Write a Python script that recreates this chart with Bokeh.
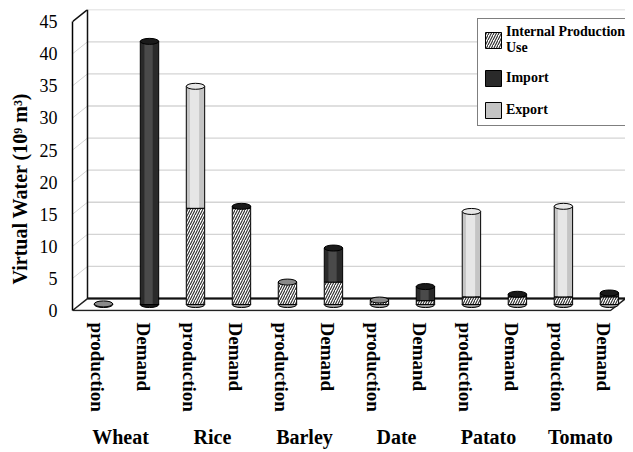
from bokeh.plotting import figure
from bokeh.models import (Range1d, FixedTicker, LinearAxis, Legend, LegendItem,
                          ColumnDataSource, Title)
from bokeh.embed import file_html
from bokeh.resources import INLINE

# ---------------- data ----------------
crops = ["Wheat", "Rice", "Barley", "Date", "Patato", "Tomato"]
kinds = ["production", "Demand"]
internal = [0.1, 0.0, 15.0, 15.0, 3.5, 3.5, 0.7, 0.6, 1.2, 1.2, 1.2, 1.2]
imports = [0.0, 41.0, 0.0, 0.3, 0.0, 5.3, 0.0, 2.2, 0.0, 0.4, 0.0, 0.6]
exports = [0.0, 0.0, 19.0, 0.0, 0.0, 0.0, 0.0, 0.0, 13.3, 0.0, 14.1, 0.0]
yticks = [0, 5, 10, 15, 20, 25, 30, 35, 40, 45]

# ---------------- geometry ----------------
FONT = "Liberation Serif"
FRAME_W = 553
X0, X1 = -0.674, 11.35
Y0, Y1 = -0.15, 46.9
PX_Y = 6.42
FRAME_H = int(round((Y1 - Y0) * PX_Y))
PX_X = FRAME_W / (X1 - X0)
DXU = 15 / PX_X          # depth offset in x (data units)
DYU = 12 / PX_Y          # depth offset in y (data units)
BASE = DYU / 2
BAR_W = 0.40
LBL_SHIFT = -0.13

labels = []
xs = []
for i, c in enumerate(crops):
    for j, k in enumerate(kinds):
        labels.append(k)
        xs.append(2 * i + j)
lbl_x = [x + LBL_SHIFT for x in xs]
group_x = [2 * i + 0.5 + LBL_SHIFT for i in range(len(crops))]

b0 = [BASE] * len(xs)
t0 = [b + v for b, v in zip(b0, internal)]
t1 = [b + v for b, v in zip(t0, imports)]
t2 = [b + v for b, v in zip(t1, exports)]

COL_INT = "white"
COL_IMP = "#2a2a2a"
COL_EXP = "#c4c4c4"
cap_col = []
for a, b, c in zip(internal, imports, exports):
    if c > 0:
        cap_col.append("#e6e6e6")
    elif b > 0:
        cap_col.append("#1a1a1a")
    else:
        cap_col.append("#8a8a8a")
bot_col = ["#1a1a1a" if a == 0 else "#9a9a9a" for a in internal]

src = ColumnDataSource(dict(x=xs, b0=b0, t0=t0, t1=t1, t2=t2, cap=cap_col, bot=bot_col))

imp_hl = dict(x=[], b=[], t=[])
exp_hl = dict(x=[], b=[], t=[])
for x, a0, a1, a2, vi, ve in zip(xs, t0, t1, t2, imports, exports):
    if vi > 0.6:
        imp_hl["x"].append(x - 0.02); imp_hl["b"].append(a0 + 0.1); imp_hl["t"].append(a1 - 0.1)
    if ve > 0.6:
        exp_hl["x"].append(x - 0.02); exp_hl["b"].append(a1 + 0.1); exp_hl["t"].append(a2 - 0.1)

p = figure(frame_width=FRAME_W, frame_height=FRAME_H,
           x_range=Range1d(X0, X1), y_range=Range1d(Y0, Y1),
           x_axis_type=None, output_backend="svg", toolbar_location=None,
           min_border_left=64, min_border_top=9, min_border_right=0,
           min_border_bottom=0)
p.grid.visible = False
p.outline_line_color = None
p.background_fill_color = "white"

# ---------------- 3D box ----------------
inner = yticks[1:-1]
gx0 = [X0 + DXU] * len(inner)
gx1 = [X1] * len(inner)
gy = [v + DYU for v in inner]
p.segment(x0=gx0, y0=gy, x1=gx1, y1=gy, line_color="#d4d4d4", line_width=1.3)
p.segment(x0=[X0] * len(inner), y0=inner, x1=gx0, y1=gy,
          line_color="#d4d4d4", line_width=1)
p.segment(x0=[X0 + DXU], y0=[yticks[-1] + DYU], x1=[X1], y1=[yticks[-1] + DYU],
          line_color="#d4d4d4", line_width=1.3)
p.segment(x0=[X0 + DXU, X0], y0=[DYU, yticks[-1]],
          x1=[X0 + DXU, X0 + DXU], y1=[yticks[-1] + DYU, yticks[-1] + DYU],
          line_color="#111111", line_width=1.5)
p.patch([X0, X1 - DXU, X1, X0 + DXU], [0, 0, DYU, DYU],
        fill_color="white", line_color="#222222", line_width=1.5)
p.segment(x0=[X0 + DXU], y0=[DYU], x1=[X1], y1=[DYU], line_color="#111111", line_width=2)

# ---------------- bars (cylinders) ----------------
p.ellipse(x="x", y="b0", width=BAR_W, height=6, height_units="screen",
          fill_color="bot", line_color="black", line_width=1, source=src)
r_int = p.vbar(x="x", bottom="b0", top="t0", width=BAR_W, source=src,
               fill_color=COL_INT, line_color="black", line_width=1,
               hatch_pattern="/", hatch_color="#2a2a2a", hatch_scale=5, hatch_weight=1.1)
r_imp = p.vbar(x="x", bottom="t0", top="t1", width=BAR_W, source=src,
               fill_color=COL_IMP, line_color="black", line_width=1)
p.vbar(x="x", bottom="b", top="t", width=BAR_W * 0.45, source=ColumnDataSource(imp_hl),
       fill_color="#4a4a4a", line_color=None)
r_exp = p.vbar(x="x", bottom="t1", top="t2", width=BAR_W, source=src,
               fill_color=COL_EXP, line_color="black", line_width=1)
p.vbar(x="x", bottom="b", top="t", width=BAR_W * 0.5, source=ColumnDataSource(exp_hl),
       fill_color="#e6e6e6", line_color=None)
p.ellipse(x="x", y="t2", width=BAR_W, height=6, height_units="screen",
          fill_color="cap", line_color="black", line_width=1, source=src)

# ---------------- axes ----------------
ya = p.yaxis[0]
ya.ticker = FixedTicker(ticks=yticks)
ya.bounds = (0, yticks[-1])
ya.axis_line_color = "black"
ya.axis_line_width = 1.5
ya.major_tick_line_color = None
ya.minor_tick_line_color = None
ya.major_label_standoff = 9
ya.major_label_text_font = FONT
ya.major_label_text_font_size = "18px"
ya.major_label_text_color = "black"

ytitle = Title(text="Virtual Water (10\u2079 m\u00b3)", align="left", offset=27,
               standoff=12, text_font=FONT, text_font_style="bold",
               text_font_size="20px", text_color="black")
p.add_layout(ytitle, "left")

xa = LinearAxis(ticker=FixedTicker(ticks=lbl_x),
                major_label_overrides={x: l for x, l in zip(lbl_x, labels)})
xa.major_label_orientation = "vertical"
xa.axis_line_color = None
xa.major_tick_line_color = None
xa.minor_tick_line_color = None
xa.major_label_standoff = 5
xa.major_label_text_font = FONT
xa.major_label_text_font_style = "bold"
xa.major_label_text_font_size = "19px"
xa.major_label_text_color = "black"
p.add_layout(xa, "below")

ga = LinearAxis(ticker=FixedTicker(ticks=group_x),
                major_label_overrides={x: c for x, c in zip(group_x, crops)})
ga.axis_line_color = None
ga.major_tick_line_color = None
ga.minor_tick_line_color = None
ga.major_label_standoff = 5
ga.major_label_text_font = FONT
ga.major_label_text_font_style = "bold"
ga.major_label_text_font_size = "20px"
ga.major_label_text_color = "black"
p.add_layout(ga, "below")

# ---------------- legend ----------------
legend = Legend(items=[
    LegendItem(label="Internal Production\nUse", renderers=[r_int]),
    LegendItem(label="Import", renderers=[r_imp]),
    LegendItem(label="Export", renderers=[r_exp]),
], location=(405, 185))
legend.margin = 0
legend.padding = 5
legend.spacing = 12
legend.glyph_width = 20
legend.glyph_height = 20
legend.label_standoff = 3
legend.label_text_font = FONT
legend.label_text_font_style = "bold"
legend.label_text_font_size = "14px"
legend.label_text_color = "black"
legend.border_line_color = "black"
legend.border_line_width = 1.5
legend.background_fill_alpha = 1
p.add_layout(legend)

open("out.html", "w").write(file_html(p, INLINE))
